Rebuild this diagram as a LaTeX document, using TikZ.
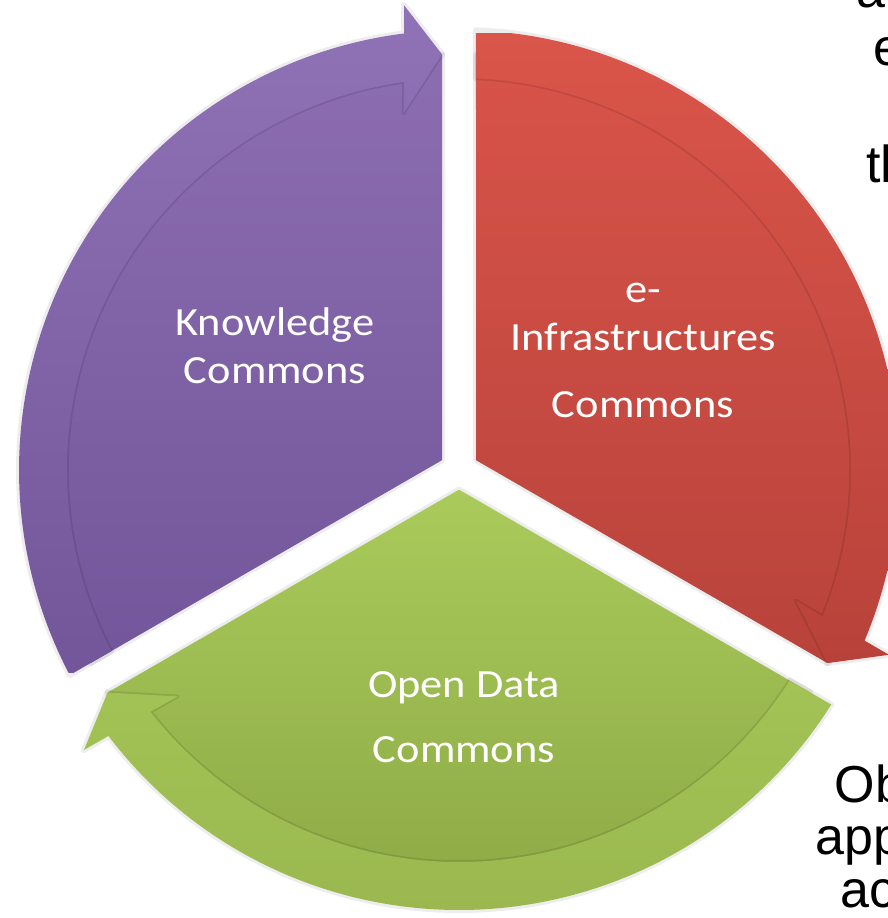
\documentclass[tikz,border=0pt]{standalone}
\usepackage{fontspec}
\setmainfont{Liberation Sans}
\newfontfamily\labelfont[FakeStretch=1.11]{Carlito}
\definecolor{purT}{HTML}{8E6FB3}
\definecolor{purB}{HTML}{72559A}
\definecolor{purAT}{HTML}{9072B6}
\definecolor{purAB}{HTML}{73569A}
\definecolor{redT}{HTML}{D9544A}
\definecolor{redB}{HTML}{B8433B}
\definecolor{redAT}{HTML}{DA554A}
\definecolor{redAB}{HTML}{B8423A}
\definecolor{grnT}{HTML}{AACB5B}
\definecolor{grnB}{HTML}{8CA845}
\definecolor{grnAT}{HTML}{ABCC5B}
\definecolor{grnAB}{HTML}{9AB84F}
\tikzset{
  seglabel/.style={text=white, font=\labelfont\fontsize{40}{48}\selectfont, align=center, inner sep=0pt, anchor=base},
  bgtext/.style={text=black, font=\fontsize{52}{60}\selectfont, inner sep=0pt, anchor=base west},
  halo/.style={draw=black, draw opacity=0.07, line width=6pt, line join=round},
  innershadow/.style={draw=black, draw opacity=0.10, line width=3.5pt, line join=round}
}
\begin{document}
\begin{tikzpicture}[x=1pt,y=1pt]
\useasboundingbox (0,0) rectangle (888,-918);
\clip (0,0) rectangle (888,-918);
% partly hidden text of the slide behind
\node[bgtext] (t1) at (856,-8) {a};
\node[bgtext] (t2) at (873,-65) {e};
\node[bgtext] (t3) at (866,-182) {th};
\node[bgtext] (t4) at (834.5,-802) {Ob};
\node[bgtext] (t5) at (815,-854) {app};
\node[bgtext] (t6) at (840.6,-907) {ac};
\begin{scope}[shift={(459,-470)}]
\foreach \B/\ct/\cb/\at/\ab/\yt/\yb in {90/purT/purB/purAT/purAB/5/672, -30/redT/redB/redAT/redAB/33/662, -150/grnT/grnB/grnAT/grnAB/490/912}{
  \pgfmathsetmacro\T{\B+2.342}
  \pgfmathsetmacro\Be{\B+117.658}
  \pgfmathsetmacro\Ao{\B+117.786}
  \pgfmathsetmacro\Ai{\B+117.514}
  \pgfmathsetmacro\Tb{\T+4.84}
  \pgfmathsetmacro\To{\T+4.4}
  \pgfmathsetmacro\Ti{\T+6.5}
  \pgfmathsetmacro\Tc{\T+5.73}
  \pgfmathsetmacro\Yt{470-\yt}
  \pgfmathsetmacro\Yb{470-\yb}
  \pgfmathsetmacro\Bm{\B+60}
  \path[halo] (\Bm:19.63) -- (\T:416) arc[start angle=\T,end angle=\Be,radius=416] -- cycle;
  \path[halo] (\Ao:440) arc[start angle=\Ao,end angle=\Tb,radius=440] -- (\To:468) -- (\T:416) -- (\Ti:361) -- (\Tc:392) arc[start angle=\Tc,end angle=\Ai,radius=392] -- cycle;
  \begin{scope}
    \clip (\Bm:19.63) -- (\T:416) arc[start angle=\T,end angle=\Be,radius=416] -- cycle;
    \shade[top color=\ct,bottom color=\cb] (-470,\Yt) rectangle (470,\Yb);
    \path[innershadow] (\Ao:440) arc[start angle=\Ao,end angle=\Tb,radius=440] -- (\To:468) -- (\T:416) -- (\Ti:361) -- (\Tc:392) arc[start angle=\Tc,end angle=\Ai,radius=392] -- cycle;
  \end{scope}
  \begin{scope}
    \clip (\Ao:440) arc[start angle=\Ao,end angle=\Tb,radius=440] -- (\To:468) -- (\T:416) -- (\Ti:361) -- (\Tc:392) arc[start angle=\Tc,end angle=\Ai,radius=392] -- cycle;
    \shade[top color=\at,bottom color=\ab] (-470,\Yt) rectangle (470,\Yb);
  \end{scope}
}
\end{scope}
\node[seglabel] (kc) at (275,-383) {Knowledge\\Commons};
\node[seglabel] (ei) at (643,-417) {e-\\Infrastructures\\[19pt]Commons};
\node[seglabel] (od) at (464,-762) {Open Data\\[17pt]Commons};
\end{tikzpicture}
\end{document}
